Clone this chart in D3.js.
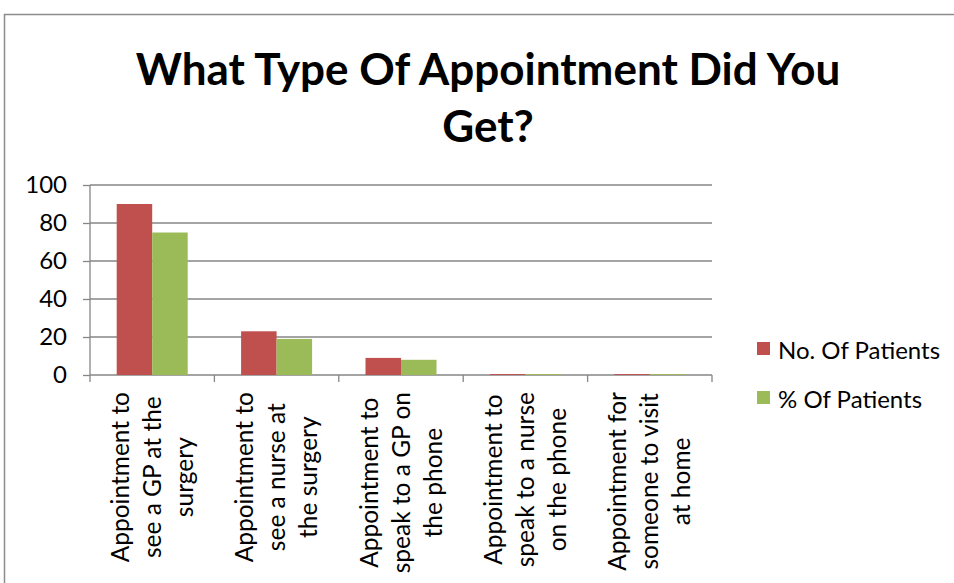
<!DOCTYPE html>
<html>
<head>
<meta charset="utf-8">
<script src="https://cdn.jsdelivr.net/npm/d3@7"></script>
<style>
  html, body { margin: 0; padding: 0; background: #fff; }
  svg { display: block; }
  text { font-family: Lato, "Open Sans", sans-serif; fill: #000; }
</style>
</head>
<body>
<svg id="chart" width="954" height="583"></svg>
<script>
const titleLines = ["What Type Of Appointment Did You", "Get?"];
const categories = [
  ["Appointment to", "see a GP at the", "surgery"],
  ["Appointment to", "see a nurse at", "the surgery"],
  ["Appointment to", "speak to a GP on", "the phone"],
  ["Appointment to", "speak to a nurse", "on the phone"],
  ["Appointment for", "someone to visit", "at home"]
];
const seriesNames = ["No. Of Patients", "% Of Patients"];
const noOfPatients = [90, 23, 9, 0.5, 0.5];
const pctOfPatients = [75, 19, 8, 0.5, 0.5];
const yTicks = [0, 20, 40, 60, 80, 100];
const colors = ["#C0504D", "#9BBB59"];

const svg = d3.select("#chart");
const W = 954, H = 583;
const plot = { left: 90, right: 712, top: 185, bottom: 375 };
const gridColor = "#868686";

// outer border
svg.append("rect")
  .attr("x", 4.5).attr("y", 14.5)
  .attr("width", W + 10).attr("height", H + 10)
  .attr("fill", "none").attr("stroke", "#8c8c8c").attr("stroke-width", 1.5);

// title
svg.append("g").selectAll("text").data(titleLines).join("text")
  .attr("x", 488).attr("y", (d, i) => 85 + i * 57)
  .attr("text-anchor", "middle")
  .attr("font-weight", "bold")
  .attr("font-size", 44)
  .text(d => d);

const idx = categories.map((d, i) => i);
const x0 = d3.scaleBand().domain(idx).range([plot.left, plot.right]).paddingInner(0).paddingOuter(0);
const x1 = d3.scaleBand().domain([0, 1]).range([0, x0.bandwidth()]).paddingInner(0).paddingOuter(0.752);
const y = d3.scaleLinear().domain([0, 100]).range([plot.bottom, plot.top]);

// y axis ticks & labels
const yAxis = d3.axisLeft(y).tickValues(yTicks).tickSize(7).tickPadding(6).tickFormat(d3.format("d"));
const gy = svg.append("g").attr("transform", `translate(${plot.left},0)`).call(yAxis);
gy.select(".domain").remove();
gy.selectAll(".tick line").attr("stroke", gridColor).attr("stroke-width", 1.3);
gy.selectAll(".tick text").attr("font-size", 24).attr("font-family", "Lato, sans-serif").attr("fill", "#000").attr("dx", -10);

// gridlines
svg.append("g").selectAll("line").data(yTicks).join("line")
  .attr("x1", plot.left).attr("x2", plot.right)
  .attr("y1", d => y(d)).attr("y2", d => y(d))
  .attr("stroke", gridColor).attr("stroke-width", 1.3);

svg.append("line")
  .attr("x1", plot.left).attr("x2", plot.left)
  .attr("y1", plot.top).attr("y2", plot.bottom)
  .attr("stroke", gridColor).attr("stroke-width", 1.3);

// bars
const seriesData = [noOfPatients, pctOfPatients];
const groups = svg.append("g").selectAll("g").data(idx).join("g")
  .attr("transform", i => `translate(${x0(i)},0)`);
groups.selectAll("rect").data(i => seriesData.map((s, k) => ({ k, v: s[i] }))).join("rect")
  .attr("x", d => x1(d.k))
  .attr("width", x1.bandwidth())
  .attr("y", d => y(d.v))
  .attr("height", d => y(0) - y(d.v))
  .attr("fill", d => colors[d.k]);

// x axis ticks at category boundaries
const boundaries = idx.map(i => x0(i)).concat([plot.right]);
svg.append("g").selectAll("line").data(boundaries).join("line")
  .attr("x1", d => d).attr("x2", d => d)
  .attr("y1", plot.bottom).attr("y2", plot.bottom + 7)
  .attr("stroke", gridColor).attr("stroke-width", 1.3);

// category labels (rotated, multi-line, centered)
const labelFont = 24.5, lineH = 32, labelTop = 392;
categories.forEach((lines, i) => {
  const cx = x0(i) + x0.bandwidth() / 2 - 1;
  const g = svg.append("g").attr("transform", `translate(${cx},${labelTop}) rotate(-90)`);
  const texts = g.selectAll("text").data(lines).join("text")
    .attr("font-size", labelFont)
    .attr("text-anchor", "middle")
    .attr("dominant-baseline", "central")
    .attr("y", (d, j) => (j - (lines.length - 1) / 2) * lineH)
    .text(d => d);
  let maxW = 0;
  texts.each(function () { maxW = Math.max(maxW, this.getComputedTextLength()); });
  texts.attr("x", -maxW / 2);
});

// legend
const legend = svg.append("g").selectAll("g").data(seriesNames).join("g")
  .attr("transform", (d, i) => `translate(757,${342 + i * 49})`);
legend.append("rect").attr("width", 13).attr("height", 13).attr("fill", (d, i) => colors[i]);
legend.append("text").attr("x", 21).attr("y", 7).attr("dominant-baseline", "central")
  .attr("font-size", 24).text(d => d);
</script>
</body>
</html>
